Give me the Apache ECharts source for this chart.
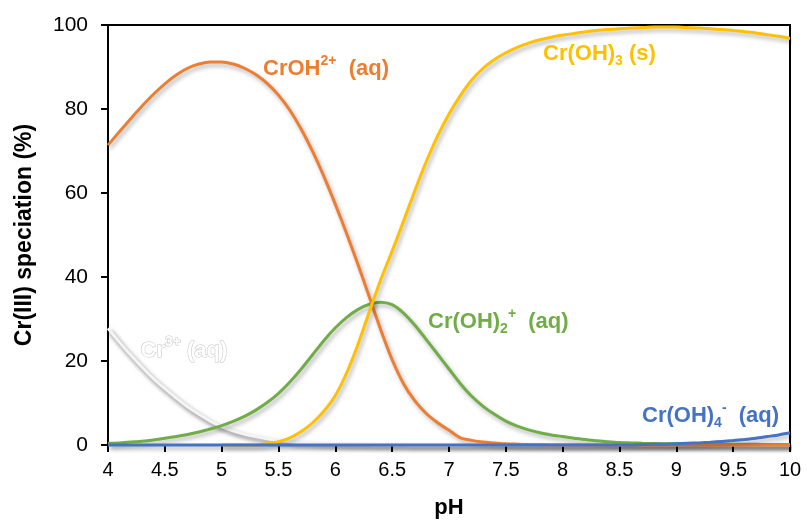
<!DOCTYPE html>
<html>
<head>
<meta charset="utf-8">
<script src="https://cdn.jsdelivr.net/npm/echarts@6/dist/echarts.min.js"></script>
<style>html,body{margin:0;padding:0;background:#fff}#c{width:807px;height:524px}</style>
</head>
<body>
<div id="c"></div>
<script>
var pH = [4.0,4.1,4.2,4.3,4.4,4.5,4.6,4.7,4.8,4.9,5.0,5.1,5.2,5.3,5.4,5.5,5.6,5.7,5.8,5.9,6.0,6.1,6.2,6.3,6.4,6.5,6.6,6.7,6.8,6.9,7.0,7.1,7.2,7.3,7.4,7.5,7.6,7.7,7.8,7.9,8.0,8.1,8.2,8.3,8.4,8.5,8.6,8.7,8.8,8.9,9.0,9.1,9.2,9.3,9.4,9.5,9.6,9.7,9.8,9.9,10.0];
var cr3 = [27.8,24.5,21.4,18.5,15.8,13.4,11.2,9.1,7.3,5.7,4.4,3.4,2.6,2.0,1.5,1.1,0.8,0.6,0.45,0.35,0.25,0.2,0.15,0.1,0.08,0.05,0.03,0.02,0.01,0,0,0,0,0,0,0,0,0,0,0,0,0,0,0,0,0,0,0,0,0,0,0,0,0,0,0,0,0,0,0,0];
var crOH = [71.4,74.6,77.7,80.7,83.5,86.0,88.1,89.7,90.7,91.2,91.2,90.7,89.7,88.2,86.1,83.3,79.7,75.2,69.9,63.9,57.3,50.3,42.9,35.2,27.4,20.3,14.6,10.5,7.5,5.3,3.5,1.7,1.1,0.7,0.5,0.3,0.2,0.1,0.05,0,0,0,0,0,0,0,0,0,0,0,0,0,0,0,0,0,0,0,0,0,0];
var crOH2 = [0.4,0.5,0.7,0.9,1.2,1.6,2.0,2.5,3.1,3.8,4.6,5.6,6.8,8.3,10.1,12.3,15.0,18.1,21.5,24.9,27.9,30.4,32.3,33.5,34.0,33.4,31.4,28.5,25.1,21.6,18.1,14.6,11.6,9.2,7.3,5.7,4.5,3.6,2.9,2.4,2.0,1.6,1.3,1.0,0.8,0.6,0.5,0.4,0.35,0.3,0.3,0.25,0.25,0.2,0.2,0.2,0.15,0.15,0.1,0.1,0.1];
var crOH3 = [null,null,null,null,null,null,null,null,null,null,0,0,0,0,0.3,0.8,1.7,3.2,5.3,8.1,11.8,17.2,24.0,31.8,39.4,46.2,53.3,60.6,67.5,73.6,78.8,83.2,86.9,89.7,91.8,93.4,94.7,95.7,96.5,97.1,97.6,98.0,98.4,98.7,98.9,99.1,99.3,99.4,99.5,99.5,99.5,99.4,99.3,99.1,98.9,98.7,98.4,98.1,97.7,97.3,96.8];
var crOH4 = [0,0,0,0,0,0,0,0,0,0,0,0,0,0,0,0,0,0,0,0,0,0,0,0,0,0,0,0,0,0,0,0,0,0,0,0,0,0,0,0,0,0,0,0,0,0,0,0.1,0.15,0.2,0.3,0.4,0.5,0.65,0.85,1.05,1.3,1.6,2.0,2.4,2.9];

function pairs(v){ return pH.map(function(x,i){ return [x, v[i]]; }); }

var chart = echarts.init(document.getElementById('c'), null, {renderer:'canvas'});
function lineSeries(name, data, color, shadow){
  return {
    name: name, type: 'line', data: pairs(data), showSymbol: false, smooth: 0.25, clip: false,
    lineStyle: {color: color, width: 3,
      shadowColor: shadow || 'rgba(0,0,0,0.3)', shadowBlur: 4, shadowOffsetX: 2, shadowOffsetY: 3},
    itemStyle: {color: color}
  };
}
var font = 'Arial, "Liberation Sans", sans-serif';
function lbl(color, strokeCol){
  function m(o){
    var r = {fontFamily: font, fontWeight: 'bold', fill: color};
    if (strokeCol) { r.stroke = strokeCol; r.lineWidth = 1; }
    for (var k in o) r[k]=o[k];
    return r;
  }
  return {
    a: m({fontSize: 22, lineHeight: 26, verticalAlign: 'bottom'}),
    sup: m({fontSize: 14, lineHeight: 26, verticalAlign: 'top', padding: [0,0,0,0]}),
    sub: m({fontSize: 14, lineHeight: 22, verticalAlign: 'bottom', padding: [0,0,-3,0]})
  };
}
var option = {
  animation: false,
  grid: {left: 108, right: 17, top: 25, bottom: 78, show: true, borderColor: '#000', borderWidth: 2, backgroundColor: 'transparent'},
  xAxis: {
    type: 'value', min: 4, max: 10, interval: 0.5,
    name: 'pH', nameLocation: 'middle', nameGap: 52,
    nameTextStyle: {fontFamily: font, fontWeight: 'bold', fontSize: 22, color: '#000'},
    axisLine: {show: true, lineStyle: {color: '#000', width: 2}},
    axisTick: {show: true, inside: false, length: 7, lineStyle: {color: '#000', width: 2}},
    axisLabel: {fontFamily: font, fontSize: 20, color: '#000', margin: 15},
    splitLine: {show: false}
  },
  yAxis: {
    type: 'value', min: 0, max: 100, interval: 20,
    name: 'Cr(III) speciation (%)', nameLocation: 'middle', nameGap: 72, nameRotate: 90,
    nameTextStyle: {fontFamily: font, fontWeight: 'bold', fontSize: 23, color: '#000'},
    axisLine: {show: true, lineStyle: {color: '#000', width: 2}},
    axisTick: {show: true, inside: false, length: 7, lineStyle: {color: '#000', width: 2}},
    axisLabel: {fontFamily: font, fontSize: 21, color: '#000', margin: 20},
    splitLine: {show: false}
  },
  series: [
    lineSeries('Cr3+', cr3, '#f4f4f4', 'rgba(0,0,0,0.55)'),
    lineSeries('Cr(OH)2+', crOH2, '#70AD47'),
    lineSeries('CrOH2+', crOH, '#ED7D31'),
    lineSeries('Cr(OH)3', crOH3, '#FFC000'),
    lineSeries('Cr(OH)4-', crOH4, '#4472C4')
  ],
  graphic: [
    {type: 'text', left: 263, top: 54, z: 10, style: {text: '{a|CrOH}{sup|2+}{a|  (aq)}', rich: lbl('#ED7D31')}},
    {type: 'text', left: 543, top: 43, z: 10, style: {text: '{a|Cr(OH)}{sub|3}{a| (s)}', rich: lbl('#FFC000')}},
    {type: 'text', left: 428, top: 307, z: 10, style: {text: '{a|Cr(OH)}{sub|2}{sup|+}{a|  (aq)}', rich: lbl('#70AD47')}},
    {type: 'text', left: 642, top: 401, z: 10, style: {text: '{a|Cr(OH)}{sub|4}{sup|-}{a|  (aq)}', rich: lbl('#4472C4')}},
    {type: 'text', left: 140, top: 335, z: 10, style: {text: '{a|Cr}{sup|3+}{a| (aq)}', rich: lbl('#ffffff', '#c4c4c4')}}
  ]
};
chart.setOption(option);
</script>
</body>
</html>
